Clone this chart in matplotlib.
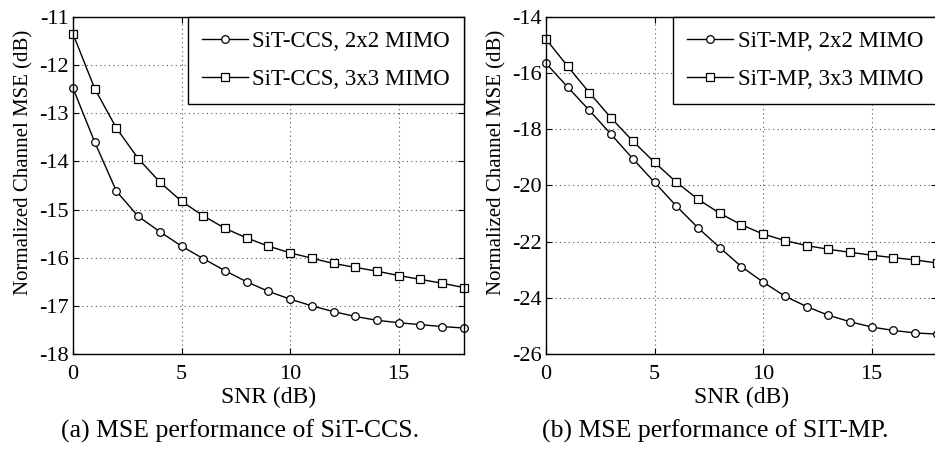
import numpy as np
import matplotlib
matplotlib.use("Agg")
import matplotlib.pyplot as plt

plt.rcParams['font.family'] = ['Liberation Serif', 'DejaVu Serif']

snr = np.arange(0, 19)

# (a) SiT-CCS
ccs_2x2 = [-12.48, -13.60, -14.62, -15.14, -15.46, -15.76, -16.02, -16.27, -16.50,
           -16.70, -16.86, -17.00, -17.12, -17.22, -17.30, -17.35, -17.39, -17.43, -17.46]
ccs_3x3 = [-11.35, -12.49, -13.31, -13.94, -14.43, -14.83, -15.13, -15.39, -15.59,
           -15.76, -15.90, -16.01, -16.12, -16.20, -16.28, -16.37, -16.45, -16.53, -16.62]

# (b) SiT-MP
mp_2x2 = [-15.65, -16.50, -17.33, -18.18, -19.05, -19.89, -20.73, -21.51, -22.21,
          -22.89, -23.44, -23.94, -24.31, -24.62, -24.85, -25.04, -25.16, -25.25, -25.29]
mp_3x3 = [-14.79, -15.76, -16.70, -17.60, -18.42, -19.18, -19.88, -20.49, -20.99,
          -21.40, -21.73, -21.96, -22.14, -22.27, -22.38, -22.48, -22.57, -22.65, -22.76]

fig = plt.figure(figsize=(9.35, 4.5), dpi=100)
ax1 = fig.add_axes([0.0781, 0.2133, 0.418, 0.749])
ax2 = fig.add_axes([0.584, 0.2133, 0.418, 0.749])

fs_tick = 16
fs_leg = 16.5


def style(ax, ylim, yticks):
    ax.set_xlim(0, 18)
    ax.set_ylim(*ylim)
    ax.set_xticks([0, 5, 10, 15])
    ax.set_yticks(yticks)
    ax.set_yticklabels([str(t) for t in yticks])
    ax.tick_params(direction='in', top=True, right=True, labelsize=fs_tick,
                   length=4, width=0.8)
    ax.tick_params(axis='x', pad=8)
    ax.tick_params(axis='y', pad=3)
    ax.grid(True, linestyle=(0, (1, 3)), color='#555555', linewidth=0.8)
    for s in ax.spines.values():
        s.set_linewidth(1.0)
    ax.set_xlabel('SNR (dB)', fontsize=17, labelpad=2)
    ax.set_ylabel('Normalized Channel MSE (dB)', fontsize=15)
    ax.yaxis.set_label_coords(-0.10, 0.57)


mk = dict(color='black', linewidth=1.0, markersize=5.5, markerfacecolor='white',
          markeredgewidth=0.9)

ax1.plot(snr, ccs_2x2, marker='o', label='SiT-CCS, 2x2 MIMO', clip_on=False, **mk)
ax1.plot(snr, ccs_3x3, marker='s', label='SiT-CCS, 3x3 MIMO', clip_on=False, **mk)
style(ax1, (-18, -11), list(range(-18, -10)))

ax2.plot(snr, mp_2x2, marker='o', label='SiT-MP, 2x2 MIMO', clip_on=False, **mk)
ax2.plot(snr, mp_3x3, marker='s', label='SiT-MP, 3x3 MIMO', clip_on=False, **mk)
style(ax2, (-26, -14), list(range(-26, -13, 2)))

for ax in (ax1, ax2):
    leg = ax.legend(loc='upper right', fontsize=fs_leg, fancybox=False, framealpha=1,
                    edgecolor='black', borderaxespad=0, handlelength=2.0,
                    handletextpad=0.2, borderpad=0.6, labelspacing=0.75)
    leg.get_frame().set_linewidth(1.0)

fig.text(0.257, 0.042, '(a) MSE performance of SiT-CCS.', fontsize=18.5,
         ha='center', va='center')
fig.text(0.765, 0.042, '(b) MSE performance of SIT-MP.', fontsize=18.5,
         ha='center', va='center')

fig.savefig('out.png', dpi=100)
